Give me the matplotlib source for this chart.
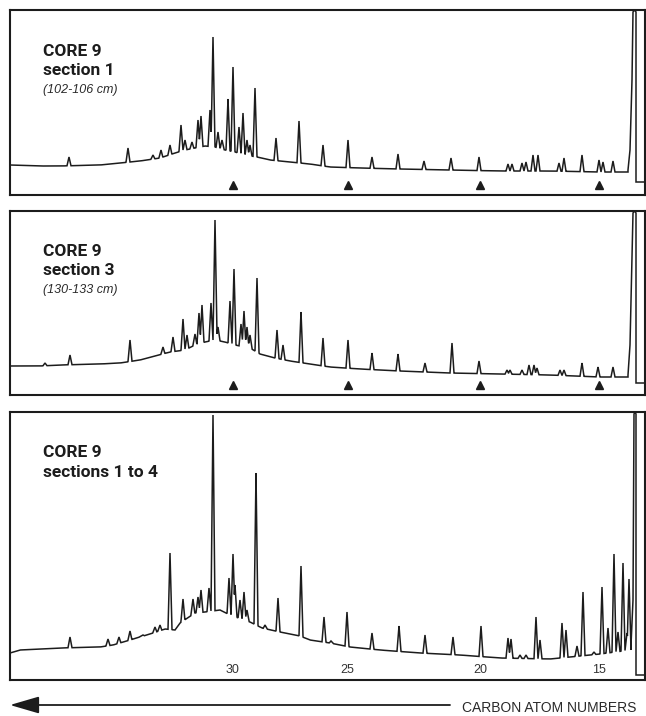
import numpy as np
import matplotlib
matplotlib.use("Agg")
import matplotlib.pyplot as plt

# ---------------- data (retention position, signal) ----------------
# carbon-number markers along the retention axis
carbon_labels = [30, 25, 20, 15]
carbon_pos = [233, 347.5, 480, 599]

# Panel 1 : CORE 9 section 1
p1_base_x = [10, 40, 60, 100, 120, 140, 160, 175, 185, 195, 205, 215, 225, 235, 245, 257,
             270, 290, 310, 330, 360, 400, 450, 500, 550, 600, 628]
p1_base_y = [30, 29, 29, 30, 32, 34, 37, 42, 45, 47, 49, 48, 45, 43, 40, 38,
             35, 33, 31, 28, 27, 26, 25, 24, 24, 23, 23]
p1_peak_x = [69, 128, 153, 161, 170, 181, 185, 192, 198, 201, 210, 213, 218, 222, 228, 233,
             239, 243, 247, 250, 255, 276, 299, 323, 348, 372, 398, 424, 451, 479, 508, 512,
             522, 526, 533, 538, 559, 564, 582, 599, 603, 613]
p1_peak_y = [38, 47, 40, 45, 50, 70, 55, 53, 75, 79, 85, 158, 63, 55, 96, 128,
             68, 82, 55, 50, 107, 57, 74, 50, 55, 38, 41, 34, 37, 38, 31, 31,
             32, 33, 40, 40, 32, 37, 40, 35, 33, 34]
p1_solv_x = [628, 630, 632, 633, 634.5, 636, 636, 645]
p1_solv_y = [25, 45, 115, 183, 185, 183, 13, 13]

# Panel 2 : CORE 9 section 3
p2_base_x = [10, 40, 60, 100, 120, 140, 155, 170, 185, 195, 205, 215, 225, 235, 250, 260,
             275, 290, 310, 330, 360, 400, 450, 500, 550, 600, 628]
p2_base_y = [29, 29, 30, 31, 32, 35, 39, 43, 45, 50, 53, 55, 53, 50, 47, 41,
             37, 34, 31, 28, 26, 24, 22, 21, 20, 18, 18]
p2_peak_x = [45, 70, 130, 163, 173, 183, 187, 195, 199, 202, 211, 215, 218, 230, 234, 241,
             244, 247, 250, 257, 277, 283, 301, 323, 348, 372, 398, 425, 452, 479, 507, 510,
             522, 529, 534, 537, 560, 564, 582, 598, 613]
p2_peak_y = [32, 40, 55, 48, 58, 76, 60, 61, 82, 90, 92, 175, 68, 94, 126, 71,
             84, 68, 60, 117, 65, 50, 83, 57, 55, 42, 41, 32, 52, 34, 25, 25,
             25, 30, 30, 27, 25, 25, 32, 28, 28]
p2_solv_x = [628, 630, 632, 633, 634.5, 636, 636, 645]
p2_solv_y = [20, 50, 135, 182, 184, 182, 12, 12]

# Panel 3 : CORE 9 sections 1 to 4
p3_base_x = [10, 20, 60, 100, 113, 130, 150, 165, 175, 180, 195, 205, 220, 230, 250, 262,
             280, 300, 310, 330, 350, 380, 420, 460, 500, 550, 580, 600, 615, 631]
p3_base_y = [27, 30, 32, 33, 35, 40, 46, 51, 50, 57, 67, 68, 70, 65, 58, 52,
             48, 44, 40, 37, 33, 30, 27, 25, 22, 21, 24, 26, 28, 30]
p3_peak_x = [70, 108, 119, 130, 143, 155, 160, 170, 183, 193, 198, 201, 209, 213, 229, 233,
             235, 240, 244, 247, 256, 265, 278, 301, 324, 331, 347, 372, 399, 425, 453, 481,
             508, 511, 520, 526, 536, 540, 562, 566, 577, 583, 594, 602, 608, 614, 618, 623,
             627, 629]
p3_peak_y = [43, 41, 43, 49, 45, 53, 55, 127, 81, 81, 83, 90, 92, 265, 102, 126,
             95, 80, 88, 70, 207, 55, 82, 114, 63, 39, 68, 47, 54, 45, 43, 54,
             42, 41, 25, 25, 63, 40, 57, 50, 34, 88, 28, 93, 52, 126, 48, 117,
             47, 101]
p3_solv_x = [631, 633, 634, 635, 636, 636, 645]
p3_solv_y = [35, 80, 266, 268, 266, 5, 5]

panels = [
    dict(bx=p1_base_x, by=p1_base_y, px=p1_peak_x, py=p1_peak_y, sx=p1_solv_x, sy=p1_solv_y,
         box=(10, 10, 644.5, 195), lines=["CORE 9", "section 1", "(102-106 cm)"],
         base=[56, 75, 93], marks=True),
    dict(bx=p2_base_x, by=p2_base_y, px=p2_peak_x, py=p2_peak_y, sx=p2_solv_x, sy=p2_solv_y,
         box=(10, 211, 644.5, 395), lines=["CORE 9", "section 3", "(130-133 cm)"],
         base=[256.5, 275, 293], marks=True),
    dict(bx=p3_base_x, by=p3_base_y, px=p3_peak_x, py=p3_peak_y, sx=p3_solv_x, sy=p3_solv_y,
         box=(10, 412, 644.5, 680), lines=["CORE 9", "sections 1 to 4"],
         base=[457, 477], marks=False),
]

# ---------------- figure ----------------
W, H = 646, 716
fig = plt.figure(figsize=(W / 100, H / 100), dpi=100)
fig.patch.set_facecolor("white")

INK = "#1c1c1c"
BOLD_FAM = ["Roboto", "DejaVu Sans"]
HALF_W = 2.0


def px_axes(x0, y0, x1, y1):
    return fig.add_axes([x0 / W, 1 - y1 / H, (x1 - x0) / W, (y1 - y0) / H])


texts = []
for P in panels:
    x0, y0, x1, y1 = P["box"]
    ax = px_axes(x0, y0, x1, y1)
    ax.set_xlim(x0, x1)
    ax.set_ylim(0, y1 - y0)
    ax.set_xticks([])
    ax.set_yticks([])
    for s in ax.spines.values():
        s.set_linewidth(1.5)
        s.set_color(INK)

    bx = np.asarray(P["bx"], float)
    by = np.asarray(P["by"], float)
    xs = np.arange(bx[0], P["sx"][0] + 1e-9, 0.2)
    sig = np.interp(xs, bx, by)
    for pxk, pyk in zip(P["px"], P["py"]):
        bp = np.interp(pxk, bx, by)
        tri = pyk - (pyk - bp) * np.abs(xs - pxk) / HALF_W
        sig = np.maximum(sig, tri)
    tx = np.concatenate([xs, P["sx"]])
    ty = np.concatenate([sig, P["sy"]])
    ax.plot(tx, ty, color=INK, lw=1.1, solid_joinstyle="miter")

    if P["marks"]:
        ax.plot(carbon_pos, [10] * len(carbon_pos), ls="none", marker="^",
                ms=5.5, color=INK, mec=INK)
    else:
        for lab, pos in zip(carbon_labels, carbon_pos):
            ax.text(pos, 10, str(lab), ha="center", va="center", fontsize=9,
                    family=["Liberation Sans", "DejaVu Sans"], color="#333333")
    texts.append(P)

# overlay axes in pixel units for free text / arrow (drawn on top)
over = fig.add_axes([0, 0, 1, 1], zorder=10)
over.set_xlim(0, W)
over.set_ylim(H, 0)
over.axis("off")
over.patch.set_alpha(0)

for P in texts:
    for txt, bl in zip(P["lines"], P["base"]):
        if txt.startswith("("):
            over.text(43, bl, txt, ha="left", va="baseline", fontsize=9,
                      style="italic", family=["Liberation Sans", "DejaVu Sans"],
                      color="#2a2a2a")
        else:
            over.text(43, bl, txt, ha="left", va="baseline", fontsize=12.5,
                      weight="bold", family=BOLD_FAM, color=INK)

# arrow and axis caption
over.annotate("", xy=(10, 705), xytext=(450, 705),
              arrowprops=dict(arrowstyle="-|>,head_length=1.2,head_width=0.35",
                              mutation_scale=15, lw=1.3, color=INK,
                              shrinkA=0, shrinkB=0))
over.text(462, 708.5, "CARBON ATOM NUMBERS", ha="left", va="center", fontsize=10,
          family=["Liberation Sans", "DejaVu Sans"], color="#2a2a2a")

fig.savefig("out.png", dpi=100, facecolor="white")
